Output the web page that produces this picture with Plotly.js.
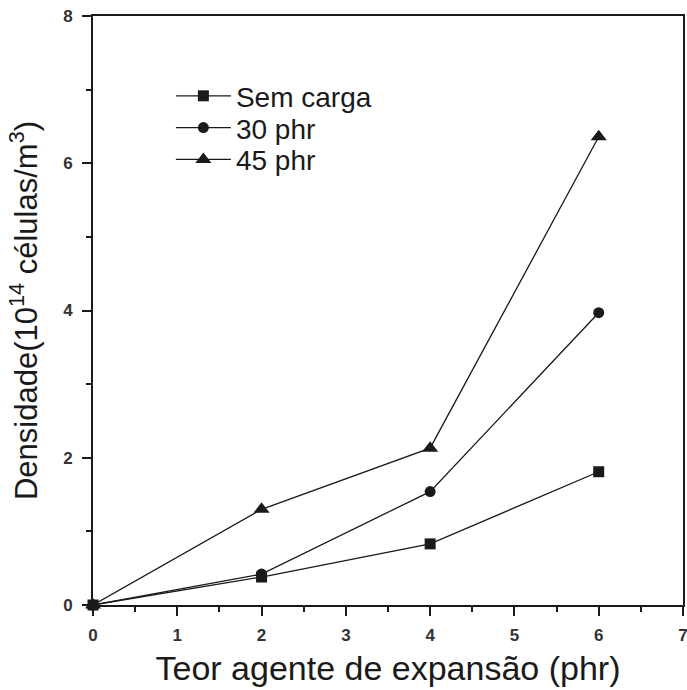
<!DOCTYPE html>
<html><head><meta charset="utf-8">
<script src="https://cdn.plot.ly/plotly-3.0.1.min.js"></script>
<style>body{margin:0;background:#fff}#chart{width:687px;height:690px}</style>
</head><body><div id="chart"></div>
<script>
const xVals = [0, 2, 4, 6];
const semCarga = [0, 0.38, 0.83, 1.81];
const phr30 = [0, 0.42, 1.54, 3.97];
const phr45 = [0, 1.30, 2.13, 6.36];
const seriesNames = ['Sem carga', '30 phr', '45 phr'];
const symbols = ['square', 'circle', 'triangle-up'];
const legendIds = ['legend', 'legend2', 'legend3'];
const legendRows = [0.864, 0.810, 0.756];
const ink = '#1a1a1a';
const data = [semCarga, phr30, phr45].map((y, i) => ({
  x: xVals, y: y, name: seriesNames[i], type: 'scatter', mode: 'lines+markers',
  legend: legendIds[i],
  line: {color: ink, width: 1.3},
  marker: {symbol: symbols[i], size: i === 2 ? 14 : 11, color: ink},
  cliponaxis: false
}));
const legendStyle = (yy) => ({x: 0.132, y: yy, xanchor: 'left', yanchor: 'middle', bgcolor: 'rgba(0,0,0,0)',
  font: {size: 28, color: ink}, itemwidth: 55});
const layout = {
  width: 687, height: 690,
  margin: {l: 93, r: 4, t: 16, b: 85},
  paper_bgcolor: '#fff', plot_bgcolor: '#fff',
  font: {family: 'Liberation Sans, Arial, sans-serif', color: ink},
  showlegend: true,
  legend: legendStyle(legendRows[0]),
  legend2: legendStyle(legendRows[1]),
  legend3: legendStyle(legendRows[2]),
  xaxis: {range: [0, 7], dtick: 1, ticks: 'outside', ticklen: 9, tickwidth: 2, tickcolor: ink,
    showline: true, linecolor: ink, linewidth: 2, mirror: true, showgrid: false, zeroline: false,
    tickfont: {size: 17, color: '#333', weight: 'bold'}, ticklabelstandoff: 5, ticklabeloverflow: 'allow',
    minor: {dtick: 0.5, ticks: 'outside', ticklen: 5, tickwidth: 2, tickcolor: ink, showgrid: false},
    title: {text: 'Teor agente de expansão (phr)', font: {size: 34, color: ink}, standoff: 12}},
  yaxis: {range: [0, 8], dtick: 2, ticks: 'outside', ticklen: 9, tickwidth: 2, tickcolor: ink,
    showline: true, linecolor: ink, linewidth: 2, mirror: true, showgrid: false, zeroline: false,
    tickfont: {size: 17, color: '#333', weight: 'bold'}, ticklabelstandoff: 6, ticklabeloverflow: 'allow',
    minor: {dtick: 1, ticks: 'outside', ticklen: 5, tickwidth: 2, tickcolor: ink, showgrid: false},
    title: {text: 'Densidade(10<sup>14</sup> células/m<sup>3</sup>)', font: {size: 31, color: ink}, standoff: 16}}
};
Plotly.newPlot('chart', data, layout, {displayModeBar: false, staticPlot: true});
</script></body></html>
